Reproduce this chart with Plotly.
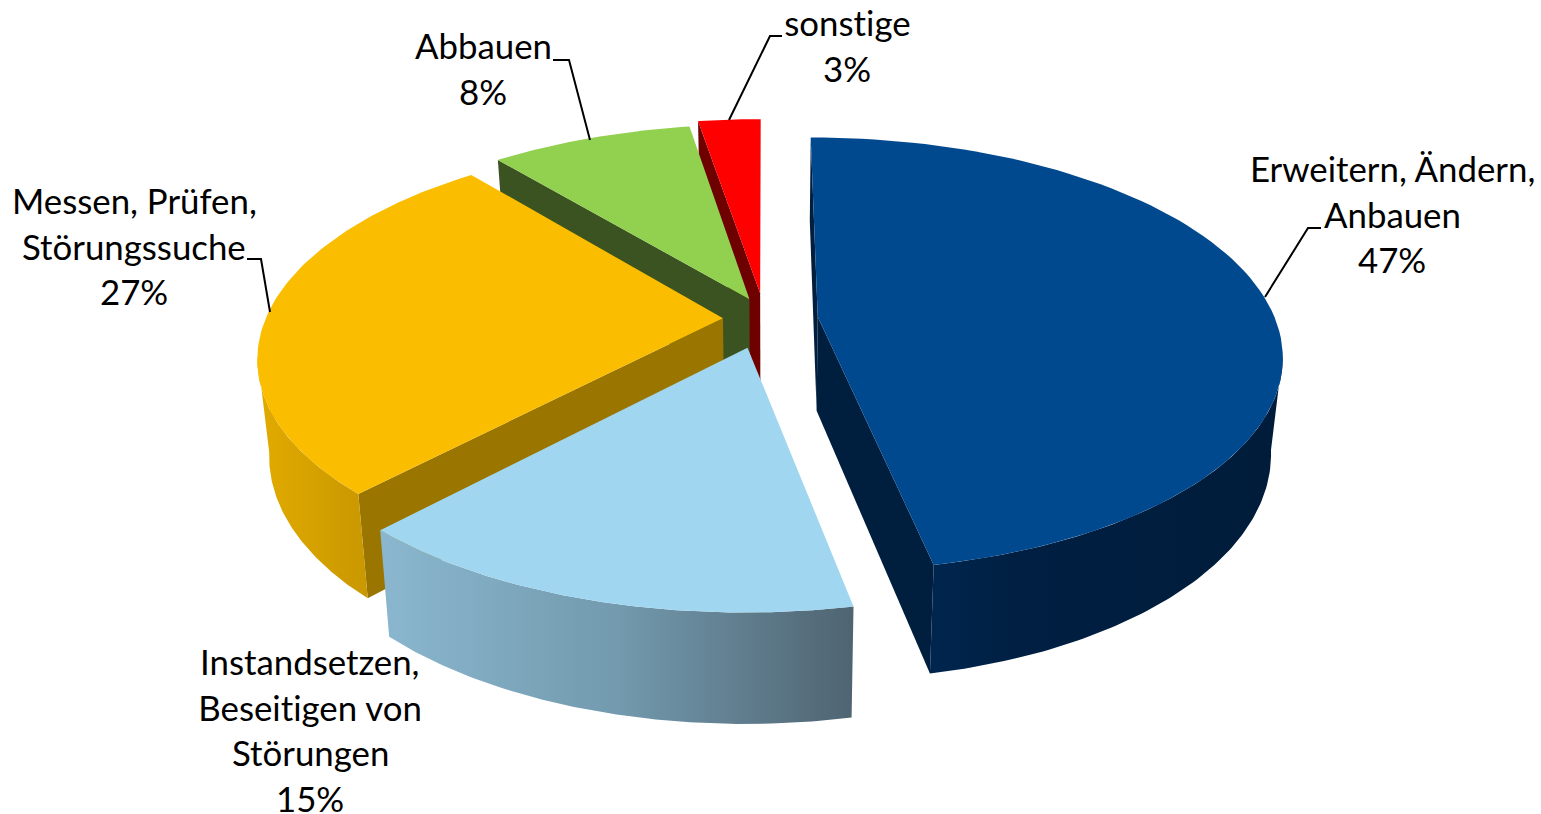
import math
import plotly.graph_objects as go

# ---- data ----
categories = ["Erweitern, Ändern, Anbauen", "Instandsetzen, Beseitigen von Störungen",
              "Messen, Prüfen, Störungssuche", "Abbauen", "sonstige"]
values = [46.9, 15.1, 27.0, 8.4, 2.6]
label_lines = [["Erweitern, Ändern,", "Anbauen"],
               ["Instandsetzen,", "Beseitigen von", "Störungen"],
               ["Messen, Prüfen,", "Störungssuche"],
               ["Abbauen"],
               ["sonstige"]]

# ---- style and geometry of the 3-D pie ----
top_colors = ["#00498F", "#A0D6F0", "#FABD00", "#92D050", "#FF0000"]
face_colors = ["#001E3E", "#88B4CC", "#9A7500", "#3B5320", "#6E0000"]
wall_scales = [[[0, "#00264F"], [0.25, "#001F42"], [1, "#001C3A"]],
               [[0, "#8AB7CF"], [0.5, "#739AAE"], [1, "#4F6471"]],
               [[0, "#E2AB00"], [1, "#C99800"]],
               None, None]
CX, CY, A, B, K = 770.0, 319.0, 457.5, 211.0, 0.172   # projection of the unit disc
EXPLODE = 0.105
slice_nudge = [(0, 0), (-9, 7), (1, 0), (-1, 0), (-6, -4)]
DEPTH, DEPTH_SLOPE, X_SHRINK = 94.0, 0.059, 0.977
TANGENT = math.degrees(math.acos(-K))
FONT = "Lato"
FONT_SIZE = 34.8
LINE_GAP = 45.5
label_pos = [(1392, 168.5), (310, 661.5), (134, 200.5), (483, 45.5), (847, 22.5)]
leaders = [[(1265, 297), (1308, 228), (1321, 228)],
           None,
           [(270, 312), (261, 259), (247, 259)],
           [(590, 140), (569, 60), (553, 60)],
           [(729, 120), (770, 36), (782, 36)]]


def top_pt(theta, radius, mid, nudge):
    t, m = math.radians(theta), math.radians(mid)
    u = radius * math.sin(t) + EXPLODE * math.sin(m)
    v = radius * math.cos(t) + EXPLODE * math.cos(m)
    w = 1 + K * v
    return CX + A * u / w + nudge[0], CY - B * v / w + nudge[1]


def bot_pt(p):
    return CX + (p[0] - CX) * X_SHRINK, p[1] + DEPTH + DEPTH_SLOPE * (p[1] - 318)


def arc(t0, t1, mid, nudge, n=90):
    return [top_pt(t0 + (t1 - t0) * i / n, 1, mid, nudge) for i in range(n + 1)]


def poly(points, color=None, scale=None):
    xs = [p[0] for p in points] + [points[0][0]]
    ys = [p[1] for p in points] + [points[0][1]]
    kw = dict(fillgradient=dict(type="horizontal", colorscale=scale)) if scale else dict(fillcolor=color)
    return go.Scatter(x=xs, y=ys, mode="lines", fill="toself", line=dict(width=0),
                      hoverinfo="skip", showlegend=False, **kw)


def face(theta, mid, nudge, color):
    apex = top_pt(0, 0, mid, nudge)
    rim = top_pt(theta, 1, mid, nudge)
    return poly([apex, rim, bot_pt(rim), bot_pt(apex)], color)


total = sum(values)
bounds, acc = [], 0.0
for v in values:
    bounds.append((acc * 360 / total, (acc + v) * 360 / total))
    acc += v

fig = go.Figure()
# painter's order: back slices first, the light blue slice last
for i in [4, 3, 2, 0, 1]:
    t0, t1 = bounds[i]
    mid = (t0 + t1) / 2
    nudge = slice_nudge[i]
    if i == 0:
        ws, we = TANGENT, t1
        fig.add_trace(face(t0, mid, nudge, face_colors[i]))
        fig.add_trace(face(t1, mid, nudge, face_colors[i]))
    elif i == 1:
        ws, we = t0, t1
    elif i == 2:
        ws, we = t0, 360 - TANGENT
    else:
        ws, we = None, None
    if i in (2, 3, 4):
        fig.add_trace(face(t0, mid, nudge, face_colors[i]))
    if ws is not None:
        rim = arc(ws, we, mid, nudge)
        fig.add_trace(poly(rim + [bot_pt(p) for p in reversed(rim)], scale=wall_scales[i]))
    fig.add_trace(poly([top_pt(0, 0, mid, nudge)] + arc(t0, t1, mid, nudge), top_colors[i]))

for path in leaders:
    if path:
        fig.add_trace(go.Scatter(x=[p[0] for p in path], y=[p[1] for p in path], mode="lines",
                                 line=dict(color="#000000", width=2), hoverinfo="skip", showlegend=False))

for (x, y), lines, v in zip(label_pos, label_lines, values):
    for j, text in enumerate(lines + [f"{round(v)}%"]):
        fig.add_annotation(x=x, y=y + j * LINE_GAP, text=text, showarrow=False, xanchor="center",
                           yanchor="middle", font=dict(family=FONT, size=FONT_SIZE, color="#000000"))

fig.update_layout(width=1541, height=814, margin=dict(l=0, r=0, t=0, b=0),
                  paper_bgcolor="white", plot_bgcolor="white", showlegend=False,
                  xaxis=dict(range=[0, 1541], visible=False, fixedrange=True),
                  yaxis=dict(range=[814, 0], visible=False, fixedrange=True))
fig.write_html("out.html", config=dict(displayModeBar=False),
               post_script="document.body.style.margin='0';document.documentElement.style.overflow='hidden';"
                           "var s=document.createElement('style');"
                           "s.textContent='svg text{font-variant-ligatures:none !important;"
                           "font-feature-settings:\"liga\" 0,\"clig\" 0,\"dlig\" 0,\"calt\" 0 !important;"
                           "text-rendering:optimizeSpeed !important}';document.head.appendChild(s);")
